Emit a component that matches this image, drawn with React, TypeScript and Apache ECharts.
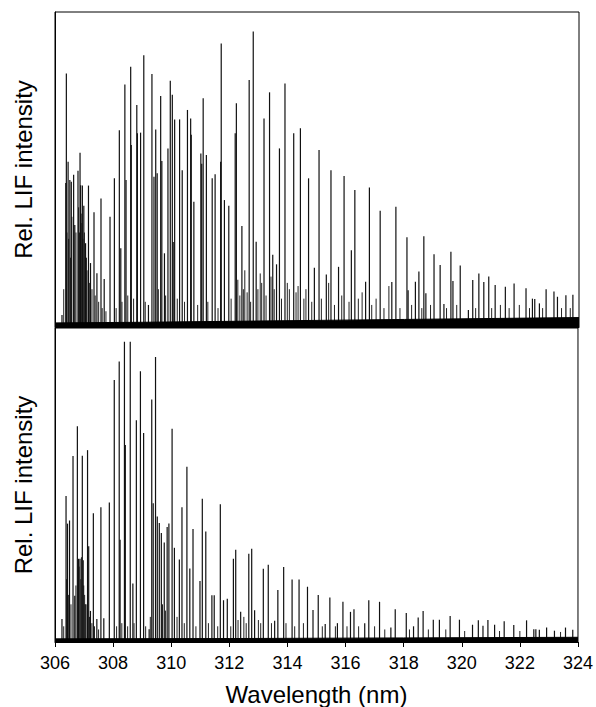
import React, { useEffect, useRef } from "react";
import * as echarts from "echarts";

const WL_MIN = 306;
const WL_MAX = 324;
const WL_STEP = 2;

// Upper spectrum: main lines [wavelength nm, relative intensity %]
const topPeaks: [number, number][] = [
  [306.24, 3.8], [306.39, 80.5], [306.37, 45.7], [306.45, 52.5], [306.51, 46.7], [306.56, 46.1],
  [306.64, 48.3], [306.68, 32.4], [306.79, 49.6], [306.86, 55.3], [306.88, 45], [306.94, 44.9],
  [306.99, 38.5], [307.05, 26.6], [307.15, 44.9], [307.22, 20.3], [307.34, 36.4], [307.44, 17.1],
  [307.58, 40.8], [307.69, 15.2], [307.89, 35.0], [308.04, 47.2], [308.21, 62.5], [308.26, 25],
  [308.40, 77.0], [308.44, 46.7], [308.60, 82.6], [308.62, 57.8], [308.81, 70.5], [308.83, 61.5],
  [308.94, 61.7], [309.05, 86.3], [309.21, 7], [309.33, 80.3], [309.40, 47.7], [309.46, 62.7],
  [309.51, 48.8], [309.63, 73.3], [309.67, 52.7], [309.76, 23.4], [309.88, 56.7], [309.96, 78.2],
  [310.03, 73.7], [310.06, 27], [310.11, 65.9], [310.28, 65.9], [310.37, 49.8], [310.55, 68.9],
  [310.66, 66.2], [310.68, 61.0], [310.77, 39.8], [311.01, 55.1], [311.04, 51.8], [311.09, 72.6],
  [311.20, 54.6], [311.40, 47.2], [311.50, 48.5], [311.71, 90.0], [311.69, 52.5], [311.82, 40.3],
  [311.97, 38.5], [312.19, 61.5], [312.23, 71.0], [312.42, 32.1], [312.67, 78.4], [312.81, 93.8],
  [312.91, 27.1], [313.18, 66.2], [313.37, 74.5], [313.48, 22.9], [313.61, 19.9], [313.71, 56.7],
  [313.90, 77.3], [314.20, 61.5], [314.43, 63.1], [314.71, 47.2], [314.91, 18.8], [315.07, 56.2],
  [315.32, 16.7], [315.48, 49.8], [315.74, 19.1], [315.93, 47.9], [316.18, 24.4], [316.30, 43.5],
  [316.67, 14.4], [316.80, 44.3], [317.17, 36.9], [317.57, 14.3], [317.71, 38.2], [318.09, 28.5],
  [318.13, 11.7], [318.38, 14.4], [318.50, 17.6], [318.67, 28.8], [318.74, 10.7], [319.02, 23.1],
  [319.23, 19.7], [319.36, 7.3], [319.60, 23.9], [319.67, 14.6], [319.92, 19.5], [320.20, 5.4],
  [320.35, 14.9], [320.56, 17.0], [320.73, 14.3], [320.90, 16.0], [321.12, 13.3], [321.47, 12.8],
  [321.77, 13.8], [322.18, 12.3], [322.40, 9.0], [322.48, 8.9], [322.64, 7.5], [322.87, 12.0],
  [323.14, 11.3], [323.26, 9.6], [323.55, 10.1], [323.79, 10.2],
];

// Upper spectrum: weaker lines
const topMinor: [number, number][] = [
  [306.30, 12], [306.41, 30], [306.47, 28], [306.53, 22], [306.58, 35], [306.72, 30], [306.81, 38],
  [306.84, 30], [306.90, 36], [306.92, 33], [306.96, 28], [307.01, 30], [307.08, 22], [307.10, 18],
  [307.18, 14], [307.27, 12], [307.38, 10], [307.50, 8], [307.62, 6], [307.75, 5], [308.10, 6],
  [308.30, 8], [308.50, 10], [308.70, 9], [309.10, 8], [309.55, 12], [309.80, 10], [310.20, 9],
  [310.45, 8], [310.90, 7], [311.25, 8], [311.60, 6], [312.05, 9], [312.28, 15], [312.35, 10],
  [312.47, 12], [312.52, 18], [312.60, 11], [312.72, 8], [312.97, 12], [313.05, 17], [313.10, 14],
  [313.25, 10], [313.42, 16], [313.53, 12], [313.78, 9], [313.98, 14], [314.05, 12], [314.28, 11],
  [314.35, 13], [314.55, 9], [314.62, 12], [314.82, 8], [315.15, 9], [315.40, 14], [315.60, 7],
  [315.85, 10], [316.10, 8], [316.42, 9], [316.55, 11], [316.88, 7], [317.03, 9], [317.30, 6],
  [317.47, 13], [317.85, 6], [318.25, 7], [318.60, 6], [318.90, 7], [319.45, 6], [319.80, 7],
  [320.45, 6], [321.00, 6], [321.30, 7], [321.60, 6], [321.95, 7], [322.30, 6], [322.75, 6],
  [323.40, 6], [323.70, 6],
];

// Upper spectrum: noise floor envelope
const topNoise: [number, number][] = [
  [306, 1.3], [309, 1.5], [312, 1.8], [315, 2.1], [318, 2.4], [321, 2.7], [324, 3.0],
];

// Lower spectrum: main lines
const bottomPeaks: [number, number][] = [
  [306.24, 7.3], [306.38, 46.5], [306.43, 37.7], [306.50, 38.7], [306.62, 59.2], [306.68, 14.7],
  [306.77, 68.7], [306.81, 26.5], [306.86, 26.5], [306.94, 59.3], [306.97, 26], [307.04, 12],
  [307.12, 61.1], [307.16, 30.5], [307.22, 9.9], [307.32, 41.0], [307.44, 7.3], [307.58, 42.9],
  [307.68, 7.6], [307.87, 44.4], [308.04, 83.4], [308.21, 89.3], [308.24, 32.6], [308.39, 95.6],
  [308.42, 62.7], [308.59, 95.6], [308.68, 18.6], [308.80, 70.6], [308.94, 86.2], [309.05, 66.6],
  [309.24, 4.1], [309.33, 77.2], [309.38, 44.2], [309.46, 90.8], [309.52, 40], [309.59, 37.9],
  [309.66, 34.7], [309.76, 31.7], [309.86, 36.6], [309.92, 37.7], [310.03, 67.9], [310.11, 30],
  [310.28, 26.3], [310.37, 42.9], [310.54, 55.8], [310.64, 23.4], [310.75, 36.0], [310.99, 19.4],
  [311.07, 45.6], [311.19, 35.2], [311.40, 14.9], [311.48, 14.9], [311.69, 43.9], [311.80, 13.3],
  [311.93, 13.8], [312.14, 26.5], [312.22, 29.4], [312.39, 9.6], [312.67, 28.1], [312.77, 29.7],
  [312.87, 10.1], [313.17, 23.3], [313.34, 24.6], [313.56, 6.8], [313.67, 16.6], [313.87, 23.9],
  [314.16, 19.9], [314.40, 19.9], [314.69, 17.6], [314.88, 10.2], [315.06, 15.0], [315.30, 5.7],
  [315.46, 14.2], [315.72, 6], [315.91, 12.8], [316.17, 9.6], [316.29, 10.4], [316.66, 6],
  [316.80, 13.3], [317.17, 12.8], [317.56, 4.6], [317.71, 10.4], [318.09, 9.2], [318.34, 5],
  [318.50, 7.8], [318.67, 9.9], [319.02, 7.1], [319.23, 7.1], [319.60, 8.3], [319.92, 7.1],
  [320.37, 5.5], [320.57, 6.9], [320.73, 5.2], [320.90, 7.0], [321.13, 5.5], [321.46, 6.6],
  [321.79, 5.4], [322.23, 6.9], [322.48, 4.1], [322.55, 4.1], [322.67, 3.9], [322.92, 4.6],
  [323.19, 3.6], [323.57, 4.6], [323.82, 3.9],
];

// Lower spectrum: weaker lines
const bottomMinor: [number, number][] = [
  [306.30, 5], [306.40, 20], [306.46, 15], [306.55, 12], [306.72, 18], [306.83, 24], [306.89, 20],
  [306.91, 27], [306.99, 18], [307.02, 15], [307.07, 12], [307.19, 8], [307.27, 6], [307.36, 5],
  [307.50, 4], [308.12, 5], [308.30, 6], [308.50, 5], [308.72, 6], [309.12, 5], [309.28, 8],
  [309.70, 12], [309.80, 10], [310.20, 8], [310.45, 6], [310.85, 5], [311.28, 6], [311.60, 5],
  [312.05, 5], [312.30, 7], [312.50, 8], [312.58, 6], [313.00, 7], [313.08, 6], [313.45, 6],
  [313.95, 6], [314.25, 5], [314.55, 6], [315.20, 5], [315.65, 5], [316.05, 5], [316.45, 5],
  [317.00, 5], [317.35, 4], [318.20, 4], [318.85, 4], [319.45, 4], [320.10, 3.5], [321.30, 3.5],
  [322.00, 3.5], [323.40, 3.2],
];

// Lower spectrum: noise floor envelope
const bottomNoise: [number, number][] = [
  [306, 1.0], [312, 1.1], [318, 1.3], [324, 1.5],
];

const FONT = "Arial, 'Liberation Sans', Helvetica, sans-serif";

export default function App() {
  const ref = useRef<HTMLDivElement>(null);

  useEffect(() => {
    const chart = echarts.init(ref.current!, null, { renderer: "svg" });

    const stick = (width: number, color: string) => (_params: any, api: any) => {
      const x = api.value(0);
      const h = api.value(1);
      const p0 = api.coord([x, 0]);
      const p1 = api.coord([x, h]);
      return {
        type: "line",
        shape: { x1: p0[0], y1: p0[1], x2: p1[0], y2: p1[1] },
        style: { stroke: color, lineWidth: width },
      };
    };

    const stickSeries = (data: [number, number][], idx: number, width: number, color: string) => ({
      type: "custom",
      xAxisIndex: idx,
      yAxisIndex: idx,
      data,
      renderItem: stick(width, color),
      clip: true,
      silent: true,
    });

    const noiseSeries = (data: [number, number][], idx: number) => ({
      type: "line",
      xAxisIndex: idx,
      yAxisIndex: idx,
      data,
      symbol: "none",
      lineStyle: { color: "#000", width: 1 },
      areaStyle: { color: "#000", opacity: 1 },
      silent: true,
    });

    const xAxisBase = {
      type: "value",
      min: WL_MIN,
      max: WL_MAX,
      interval: WL_STEP,
      splitLine: { show: false },
    };

    const yAxisBase = {
      type: "value",
      min: 0,
      max: 100,
      splitLine: { show: false },
      axisLabel: { show: false },
      axisTick: { show: false },
      axisLine: { show: true, lineStyle: { color: "#000", width: 1 } },
      name: "Rel. LIF intensity",
      nameLocation: "middle",
      nameGap: 20,
      nameTextStyle: { fontFamily: FONT, fontSize: 24, color: "#000" },
    };

    chart.setOption({
      animation: false,
      backgroundColor: "#fff",
      grid: [
        { left: 55, top: 12, width: 524, height: 315, show: true, borderColor: "#000", borderWidth: 1, backgroundColor: "transparent" },
        { left: 55, top: 328, width: 524, height: 315, show: true, borderColor: "#000", borderWidth: 1, backgroundColor: "transparent" },
      ],
      xAxis: [
        {
          ...xAxisBase,
          gridIndex: 0,
          axisLabel: { show: false },
          axisTick: { show: false },
          axisLine: { show: true, onZero: false, lineStyle: { color: "#000", width: 1 } },
        },
        {
          ...xAxisBase,
          gridIndex: 1,
          axisLine: { show: true, onZero: false, lineStyle: { color: "#000", width: 1 } },
          axisTick: { show: true, inside: false, length: 5, lineStyle: { color: "#000", width: 1 } },
          axisLabel: { show: true, margin: 12, fontFamily: FONT, fontSize: 18, color: "#000" },
          name: "Wavelength (nm)",
          nameLocation: "middle",
          nameGap: 40,
          nameTextStyle: { fontFamily: FONT, fontSize: 24, color: "#000" },
        },
      ],
      yAxis: [
        { ...yAxisBase, gridIndex: 0 },
        { ...yAxisBase, gridIndex: 1 },
      ],
      series: [
        noiseSeries(topNoise, 0),
        stickSeries(topMinor, 0, 1, "#222"),
        stickSeries(topPeaks, 0, 1.2, "#111"),
        noiseSeries(bottomNoise, 1),
        stickSeries(bottomMinor, 1, 1, "#222"),
        stickSeries(bottomPeaks, 1, 1.2, "#111"),
      ],
    });

    return () => chart.dispose();
  }, []);

  return (
    <div
      ref={ref}
      style={{ position: "fixed", left: 0, top: 0, width: 596, height: 707, background: "#fff" }}
    />
  );
}
